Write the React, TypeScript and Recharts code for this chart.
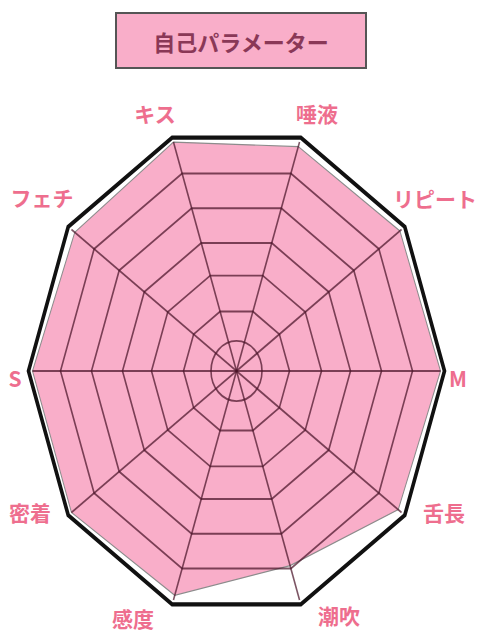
import React from 'react';
import { RadarChart, Radar, PolarGrid, PolarAngleAxis, PolarRadiusAxis } from 'recharts';

const categories = ['キス', '唾液', 'リピート', 'M', '舌長', '潮吹', '感度', '密着', 'S', 'フェチ'];
const values = [100, 98, 99, 100, 98, 85, 98, 100, 100, 98];
const title = '自己パラメーター';

const data = categories.map((name, i) => ({ name, value: values[i] }));

// layout
const CX = 236.5;
const CY = 371;
const R = 204;
const K = 1.18; // vertical stretch of the chart
const labelNudge: [number, number][] = [
  [-16, -20], [15, -20], [27, -26], [9.5, 7], [36, -6],
  [37, 6], [-38, 9], [-35, -6], [-9.5, 7], [-23, -27],
];
const FONT = '"Noto Sans CJK JP", "Noto Sans", sans-serif';

function AngleTick(props: any) {
  const { x, y, payload } = props;
  const idx = categories.indexOf(payload.value);
  const [dx, dy] = labelNudge[idx] || [0, 0];
  return (
    <g transform={`translate(${x},${y}) scale(1,${1 / K})`}>
      <text
        x={dx}
        y={dy}
        textAnchor="middle"
        dominantBaseline="central"
        fill="#EE6E8E"
        fontSize={21}
        fontWeight={700}
        fontFamily={FONT}
      >
        {payload.value}
      </text>
    </g>
  );
}

export default function App() {
  const gridProps: any = { zIndex: 1000 };
  return (
    <div style={{ position: 'absolute', left: 0, top: 0, width: 480, height: 640, overflow: 'hidden', background: '#fff' }}>
      <div
        style={{
          position: 'absolute',
          left: 115,
          top: 12,
          width: 252,
          height: 57,
          boxSizing: 'border-box',
          border: '2px solid #555',
          background: '#F9AEC9',
          display: 'flex',
          alignItems: 'center',
          justifyContent: 'center',
          fontFamily: FONT,
          fontWeight: 700,
          fontSize: 22,
          color: '#8A3857',
        }}
      >
        {title}
      </div>
      <div
        style={{
          position: 'absolute',
          left: 0,
          top: 0,
          width: 480,
          height: 640,
          transform: `scaleY(${K})`,
          transformOrigin: `0px ${CY}px`,
        }}
      >
        <RadarChart
          width={480}
          height={640}
          cx={CX}
          cy={CY}
          outerRadius={R}
          startAngle={108}
          endAngle={-252}
          data={data}
          margin={{ top: 0, right: 0, bottom: 0, left: 0 }}
        >
          <PolarRadiusAxis domain={[0, 100]} tick={false} axisLine={false} />
          <PolarAngleAxis dataKey="name" tick={<AngleTick />} tickLine={false} axisLine={false} />
          <Radar
            dataKey="value"
            fill="#F9AEC9"
            fillOpacity={1}
            stroke="#8c8c8c"
            strokeWidth={1}
            isAnimationActive={false}
          />
          <PolarGrid
            {...gridProps}
            gridType="polygon"
            polarRadius={[53, 85, 114, 145, 176]}
            stroke="#4a1428"
            strokeOpacity={0.72}
            strokeWidth={1.6}
          />
          <PolarGrid
            {...gridProps}
            gridType="circle"
            polarRadius={[25.5]}
            radialLines={false}
            stroke="#4a1428"
            strokeOpacity={0.72}
            strokeWidth={1.6}
          />
          <PolarGrid
            {...gridProps}
            gridType="polygon"
            polarRadius={[208]}
            radialLines={false}
            stroke="#111"
            strokeWidth={3.6}
          />
        </RadarChart>
      </div>
    </div>
  );
}
